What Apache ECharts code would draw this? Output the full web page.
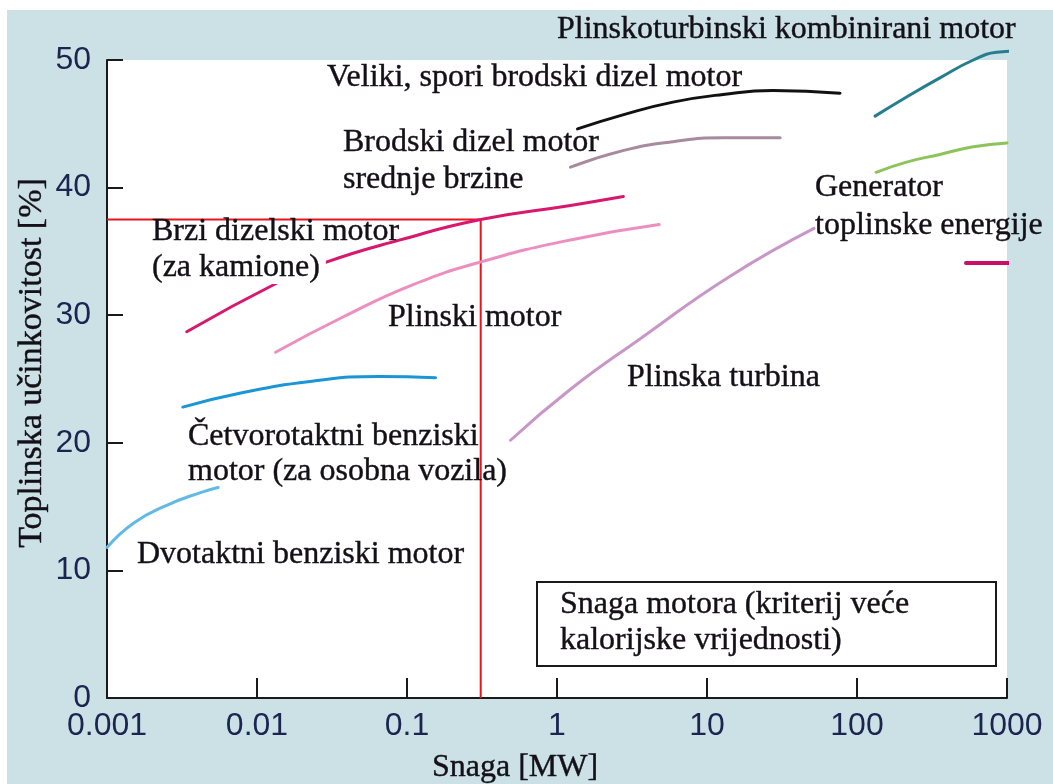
<!DOCTYPE html>
<html>
<head>
<meta charset="utf-8">
<script src="https://cdn.jsdelivr.net/npm/echarts@6/dist/echarts.min.js"></script>
<style>
  html, body { margin: 0; padding: 0; background: #ffffff; }
  #bg { position: absolute; left: 7px; top: 10px; right: 0; bottom: 0; background: #cbe1e6; }
  #chart { position: absolute; left: 0; top: 0; width: 1053px; height: 784px; }
</style>
</head>
<body>
<div id="bg"></div>
<div id="chart"></div>
<script>
// Axis tick labels (power in MW)
const xTickLabels = ['0.001', '0.01', '0.1', '1', '10', '100', '1000'];
const yTickValues = [0, 10, 20, 30, 40, 50];

// Thermal efficiency [%] versus power [MW], one array per engine type
const twoStroke     = [[0.001, 11.8], [0.0015, 13.7], [0.0025, 15.1], [0.0042, 16.1], [0.0055, 16.5]];
const fourStroke    = [[0.0032, 22.8], [0.0078, 23.9], [0.0226, 24.8], [0.065, 25.2], [0.155, 25.1]];
const truckDiesel   = [[0.0034, 28.7], [0.014, 32.6], [0.028, 34.1], [0.09, 35.9], [0.31, 37.5], [1.23, 38.6], [2.77, 39.3]];
const gasEngine     = [[0.0133, 27.1], [0.038, 29.9], [0.11, 32.4], [0.316, 34.2], [1.23, 35.9], [4.8, 37.1]];
const gasTurbine    = [[0.49, 20.2], [1.23, 24.2], [3.63, 28.2], [14, 33.0], [51.7, 36.8]];
const mediumMarine  = [[1.23, 41.6], [2.75, 42.9], [5.93, 43.6], [12.8, 43.9], [30.7, 43.9]];
const slowMarine    = [[1.37, 44.6], [2.75, 45.7], [5.93, 46.7], [12.8, 47.3], [27.5, 47.6], [77, 47.4]];
const combinedCycle = [[132, 45.6], [214, 47.1], [357, 48.6], [596, 50.0], [853, 50.6], [1190, 50.7]];
const cogeneration  = [[134, 41.2], [214, 42.0], [357, 42.6], [596, 43.2], [1000, 43.5]];
const cogenMark     = [[533, 34.1], [1285, 34.1]];

// Reference reading: truck diesel at 0.31 MW gives 37.5 %
const refPower = 0.31;
const refEff = 37.5;
const refLine = [[0.001, refEff], [refPower, refEff], [refPower, 0]];

const serif = '"Liberation Serif", "Times New Roman", serif';
const sans = '"Liberation Sans", Arial, sans-serif';
const textColor = '#141018';

function label(text, x, y, size) {
  return {
    type: 'text', x: x, y: y, z: 100,
    style: {
      text: text, font: (size || 32) + 'px ' + serif, fill: textColor,
      stroke: textColor, lineWidth: 0.4,
      align: 'left', verticalAlign: 'middle',
      textAlign: 'left', textVerticalAlign: 'middle'
    }
  };
}

function curve(data, color, width, clip) {
  return {
    type: 'line', data: data, smooth: true,
    showSymbol: false, clip: clip,
    lineStyle: { color: color, width: width, cap: 'round' },
    emphasis: { disabled: true }, silent: true, z: 5
  };
}

const chart = echarts.init(document.getElementById('chart'), null, { renderer: 'canvas' });

// the truck label sits on a white patch that interrupts its curve
const truckNote = label('(za kamione)', 152, 268);
truckNote.style.backgroundColor = '#ffffff';
truckNote.style.padding = [0, 6, 0, 0];

const yTitle = label('Toplinska učinkovitost [%]', 32, 363, 34);
yTitle.rotation = Math.PI / 2;
yTitle.style.align = yTitle.style.textAlign = 'center';

chart.setOption({
  animation: false,
  backgroundColor: 'transparent',
  grid: {
    left: 107, right: 46, top: 60, bottom: 86,
    show: true, backgroundColor: '#ffffff', borderWidth: 0
  },
  xAxis: {
    type: 'log', logBase: 10, min: 0.001, max: 1000,
    axisLine: { lineStyle: { color: '#1a1a1a', width: 2 } },
    axisTick: { inside: true, length: 20, lineStyle: { color: '#1a1a1a', width: 2 } },
    minorTick: { show: false },
    splitLine: { show: false },
    axisLabel: {
      margin: 12, color: '#1c2450', fontFamily: sans, fontSize: 32,
      formatter: function (v) { return xTickLabels[Math.round(Math.log10(v)) + 3]; }
    }
  },
  yAxis: {
    type: 'value', min: yTickValues[0], max: yTickValues[yTickValues.length - 1], interval: 10,
    axisLine: { show: true, lineStyle: { color: '#1a1a1a', width: 2 } },
    axisTick: { show: true, inside: true, length: 16, lineStyle: { color: '#1a1a1a', width: 2 } },
    splitLine: { show: false },
    axisLabel: { margin: 16, color: '#1c2450', fontFamily: sans, fontSize: 32 }
  },
  series: [
    curve(twoStroke, '#62b9e6', 3, true),
    curve(fourStroke, '#1a96d4', 3, true),
    curve(truckDiesel, '#d8176e', 3, true),
    curve(gasEngine, '#ec8fbf', 3, true),
    curve(gasTurbine, '#c996c8', 3, true),
    curve(mediumMarine, '#a88a9e', 3, true),
    curve(slowMarine, '#111111', 3, true),
    curve(combinedCycle, '#247e8e', 3, false),
    curve(cogeneration, '#8cc45a', 3, false),
    curve(cogenMark, '#c8106a', 4, false),
    {
      type: 'line', data: refLine, showSymbol: false, silent: true, z: 4,
      lineStyle: { color: '#e8141c', width: 2 }
    }
  ],
  graphic: [
    label('Plinskoturbinski kombinirani motor', 557, 30),
    label('Veliki, spori brodski dizel motor', 327, 78),
    label('Brodski dizel motor', 343, 143),
    label('srednje brzine', 343, 180),
    label('Generator', 815, 188),
    label('toplinske energije', 815, 226),
    label('Brzi dizelski motor', 152, 232),
    truckNote,
    label('Plinski motor', 388, 318),
    label('Plinska turbina', 627, 378),
    label('Četvorotaktni benziski', 188, 437),
    label('motor (za osobna vozila)', 188, 472),
    label('Dvotaktni benziski motor', 137, 555),
    {
      type: 'rect', z: 90,
      shape: { x: 537, y: 582, width: 459, height: 84 },
      style: { fill: '#ffffff', stroke: '#1a1a1a', lineWidth: 2 }
    },
    label('Snaga motora (kriterij veće', 560, 605),
    label('kalorijske vrijednosti)', 560, 641),
    label('Snaga [MW]', 432, 768),
    yTitle
  ]
});
</script>
</body>
</html>
